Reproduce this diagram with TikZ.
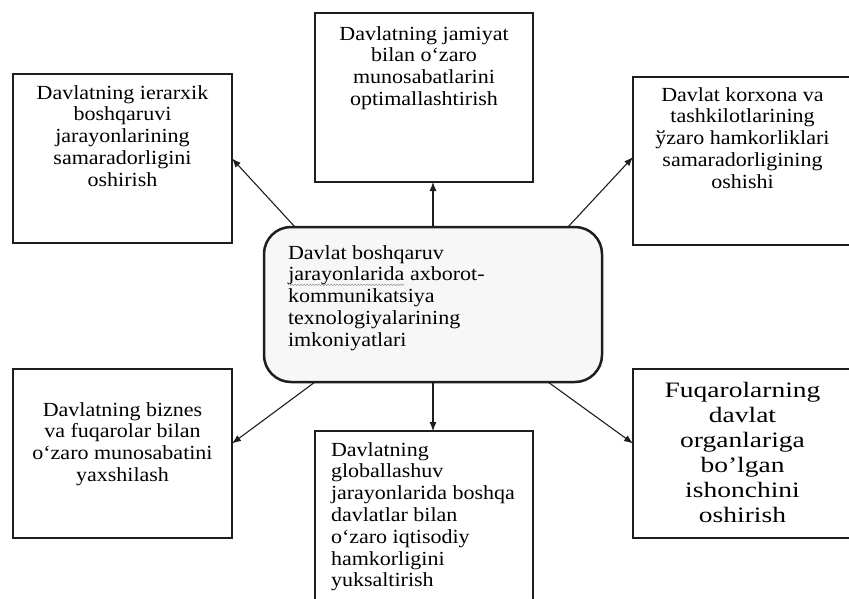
\documentclass[tikz,border=0pt]{standalone}
\usepackage{fontspec}
\setmainfont[FakeStretch=1.1]{Liberation Serif}
\newfontfamily\bigserif[FakeStretch=1.25]{Liberation Serif}
\usetikzlibrary{arrows.meta,calc,decorations.pathmorphing}
\definecolor{hubfill}{HTML}{F7F7F7}
\definecolor{edge}{HTML}{1E1E1E}
\newcommand\boxtxt[5]{\begin{minipage}[t][#2][t]{#1}#4\rule{0pt}{#3}#5\end{minipage}}
\newcommand\spellwave[1]{\tikz[baseline=(spellw.base), x=1pt, y=1pt, sharp corners, line width=0.5pt]{%
  \node[inner sep=0pt, outer sep=0pt, draw=none, fill=none, anchor=base west] (spellw) at (0,0) {#1};%
  \draw[black!40, sharp corners, line width=0.5pt, decorate, decoration={snake, amplitude=0.8pt, segment length=3pt}]
    ([yshift=-4pt]spellw.base west) -- ([yshift=-4pt]spellw.base east);}}
\tikzset{
  boxnode/.style={draw=edge, line width=2.8pt, fill=white, inner sep=0pt, outer sep=0pt, anchor=north west,
                  font=\fontsize{20}{21.8}\selectfont},
  bignode/.style={boxnode, font=\bigserif\fontsize{22}{25}\selectfont},
  hubnode/.style={draw=edge, line width=2.5pt, fill=hubfill, rounded corners=27pt, inner sep=0pt, outer sep=0pt,
                  anchor=north west, font=\fontsize{20}{21.8}\selectfont},
  arr/.style={draw=edge, line width=1.1pt, -{Latex[length=9pt,width=7pt]}}
}
\begin{document}
\begin{tikzpicture}[x=1pt,y=-1pt]
\useasboundingbox (0,0) rectangle (849,598);
\clip (0,0) rectangle (849,598);
\fill[white] (0,0) rectangle (849,598);

\node[hubnode] (hub) at (264,227)
  {\boxtxt{338pt}{155pt}{32pt}{\raggedright\leftskip=24pt}{Davlat boshqaruv\\\spellwave{jarayonlarida} axborot-\\kommunikatsiya\\texnologiyalarining\\imkoniyatlari}};

\node[boxnode] (tc) at (315,13)
  {\boxtxt{218pt}{169pt}{27pt}{\centering}{Davlatning jamiyat\\bilan o‘zaro\\munosabatlarini\\optimallashtirish}};

\node[boxnode] (tl) at (13,74)
  {\boxtxt{219pt}{169pt}{25pt}{\centering}{Davlatning ierarxik\\boshqaruvi\\jarayonlarining\\samaradorligini\\oshirish}};

\node[boxnode] (tr) at (633,77)
  {\boxtxt{219pt}{168pt}{24pt}{\centering}{Davlat korxona va\\tashkilotlarining\\ўzaro hamkorliklari\\samaradorligining\\oshishi}};

\node[boxnode] (bl) at (13,369)
  {\boxtxt{219pt}{169pt}{47pt}{\centering}{Davlatning biznes\\va fuqarolar bilan\\o‘zaro munosabatini\\yaxshilash}};

\node[boxnode] (bc) at (315,431)
  {\boxtxt{218pt}{200pt}{25pt}{\raggedright\leftskip=16pt}{Davlatning\\globallashuv\\jarayonlarida boshqa\\davlatlar bilan\\o‘zaro iqtisodiy\\hamkorligini\\yuksaltirish}};

\node[bignode] (br) at (633,369)
  {\boxtxt{219pt}{169pt}{28pt}{\centering}{Fuqarolarning\\davlat\\organlariga\\bo’lgan\\ishonchini\\oshirish}};

\draw[arr] (hub.north) -- (hub.north |- tc.south);
\draw[arr] ([xshift=31pt]hub.north west) -- (tl.east);
\draw[arr] ([xshift=-34pt]hub.north east) -- ([yshift=4pt]tr.west);
\draw[arr] ([xshift=51pt]hub.south west) -- ([yshift=10pt]bl.east);
\draw[arr] (hub.south) -- (hub.south |- bc.north);
\draw[arr] ([xshift=-54pt]hub.south east) -- ([yshift=10pt]br.west);
\end{tikzpicture}
\end{document}
